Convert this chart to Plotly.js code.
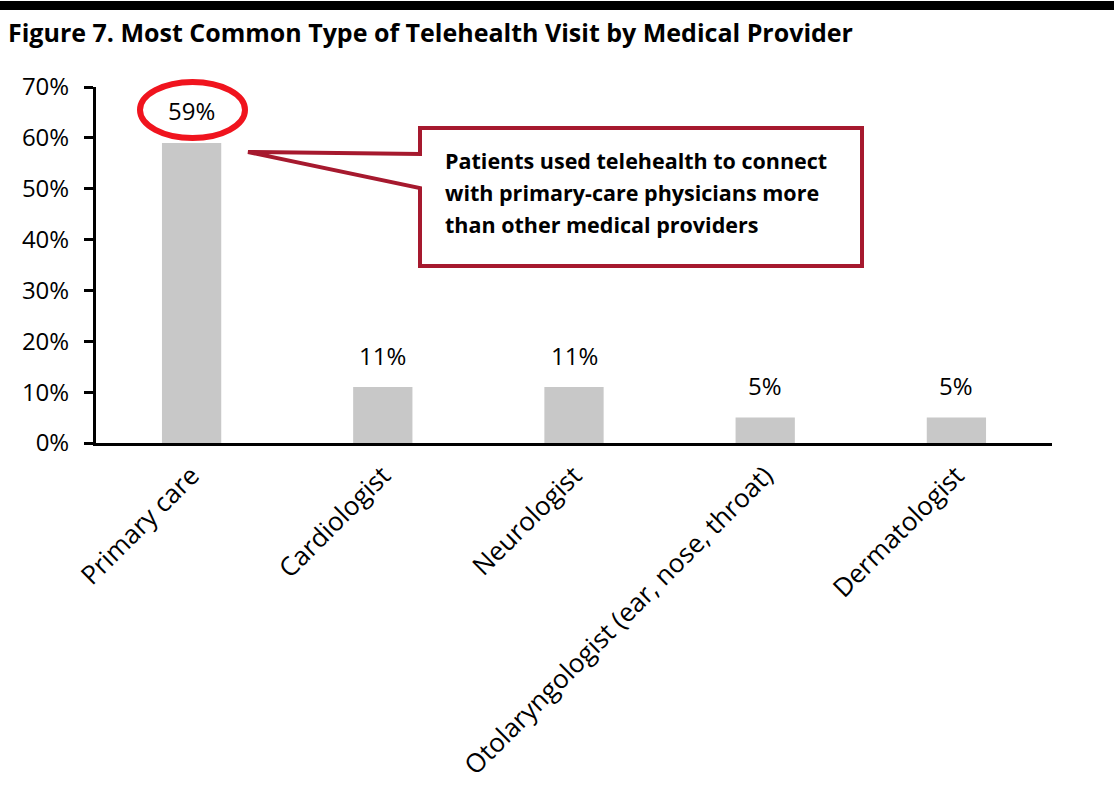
<!DOCTYPE html>
<html>
<head>
<meta charset="utf-8">
<script src="https://cdn.plot.ly/plotly-3.0.1.min.js"></script>
<style>html,body{margin:0;padding:0;background:#fff;}#chart{width:1114px;height:808px;}</style>
</head>
<body>
<div id="chart"></div>
<script>
var categories = ["Primary care", "Cardiologist", "Neurologist", "Otolaryngologist (ear, nose, throat)", "Dermatologist"];
var values = [59, 11, 11, 5, 5];
var yTickValues = [0, 10, 20, 30, 40, 50, 60, 70];
var yTickLabels = ["0%", "10%", "20%", "30%", "40%", "50%", "60%", "70%"];
var titleText = "Figure 7. Most Common Type of Telehealth Visit by Medical Provider";
var calloutLines = ["Patients used telehealth to connect", "with primary-care physicians more", "than other medical providers"];

var FONT = "Open Sans, Noto Sans, sans-serif";
var W = 1114, H = 808;
var L = 96, R = 62, T = 87, B = 365;
var pw = W - L - R, ph = H - T - B;
function px(x) { return (x - L) / pw; }
function py(y) { return (H - B - y) / ph; }

var annotations = values.map(function (v, i) {
  return {
    x: categories[i], y: v, xref: "x", yref: "y",
    text: v + "%", showarrow: false, yanchor: "middle", yshift: 32,
    font: {family: FONT, size: 24, color: "#000"}
  };
});
calloutLines.forEach(function (t, i) {
  annotations.push({
    x: px(443), y: py(160 + 32 * i), xref: "paper", yref: "paper",
    xanchor: "left", yanchor: "middle", align: "left", showarrow: false,
    text: "<b>" + t + "</b>",
    font: {family: FONT, size: 21.5, color: "#000"}
  });
});

var calloutPath = "M " + px(420) + "," + py(154) +
  " L " + px(420) + "," + py(128) +
  " L " + px(862) + "," + py(128) +
  " L " + px(862) + "," + py(266) +
  " L " + px(420) + "," + py(266) +
  " L " + px(420) + "," + py(188) +
  " L " + px(248) + "," + py(152) + " Z";

var shapes = [
  {type: "rect", xref: "paper", yref: "paper", x0: px(0), x1: px(W), y0: py(1), y1: py(10),
   fillcolor: "#000", line: {width: 0}},
  {type: "circle", xref: "paper", yref: "paper", x0: px(140), x1: px(245), y0: py(82), y1: py(138),
   fillcolor: "rgba(0,0,0,0)", line: {color: "#f0141e", width: 6}},
  {type: "path", xref: "paper", yref: "paper", path: calloutPath,
   fillcolor: "#fff", line: {color: "#a6192e", width: 4}}
];

var data = [{
  type: "bar", x: categories, y: values,
  marker: {color: "#c8c8c8"}, hoverinfo: "skip"
}];

var layout = {
  width: W, height: H,
  margin: {l: L, r: R, t: T, b: B, pad: 0},
  paper_bgcolor: "#fff", plot_bgcolor: "#fff",
  showlegend: false, bargap: 0.69,
  font: {family: FONT, color: "#000"},
  title: {
    text: "<b>" + titleText + "</b>",
    x: 8 / W, xref: "container", xanchor: "left",
    y: 1 - 33 / H, yref: "container", yanchor: "middle",
    font: {family: FONT, size: 25, color: "#000"}
  },
  xaxis: {
    type: "category", tickangle: -45, showline: true, linecolor: "#000", linewidth: 3,
    ticks: "", showgrid: false, zeroline: false, ticklabelstandoff: 4,
    tickfont: {family: FONT, size: 26, color: "#000"}
  },
  yaxis: {
    range: [0, 70], tickmode: "array", tickvals: yTickValues, ticktext: yTickLabels,
    showline: true, linecolor: "#000", linewidth: 3,
    ticks: "outside", ticklen: 9, tickwidth: 3, tickcolor: "#000",
    showgrid: false, zeroline: false, ticklabelstandoff: 10,
    tickfont: {family: FONT, size: 24, color: "#000"}
  },
  annotations: annotations,
  shapes: shapes
};

Plotly.newPlot("chart", data, layout, {displayModeBar: false, staticPlot: true});
</script>
</body>
</html>
